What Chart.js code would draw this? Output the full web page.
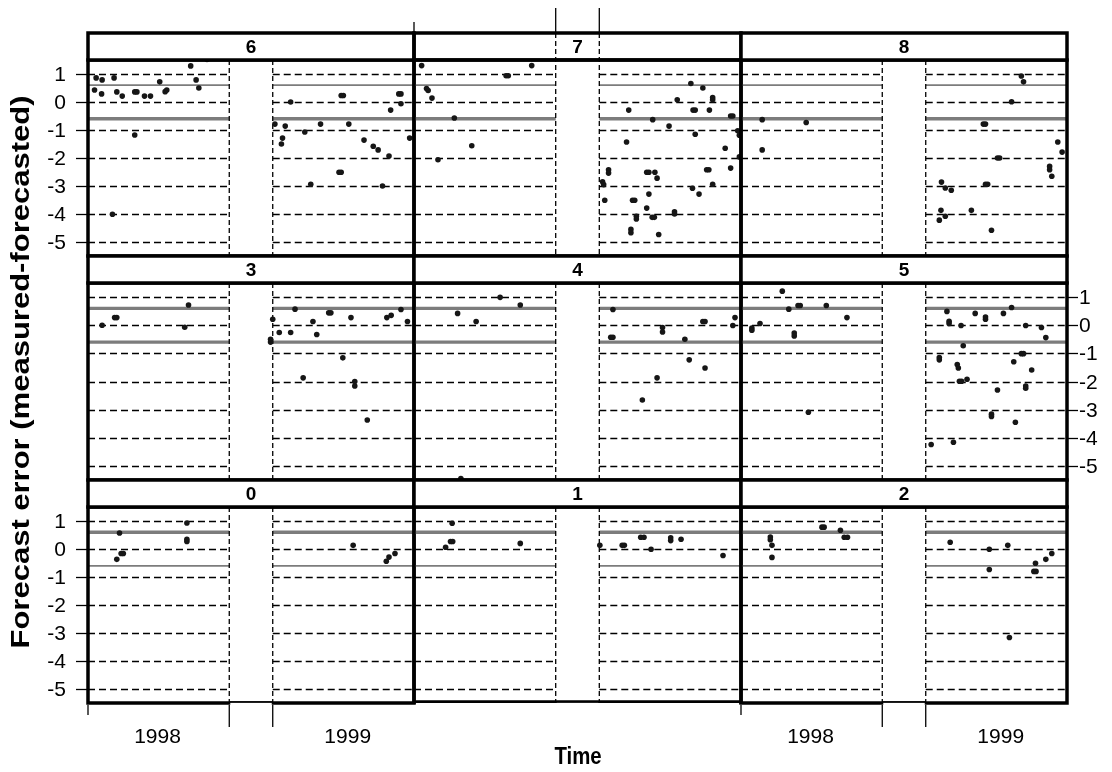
<!DOCTYPE html>
<html>
<head>
<meta charset="utf-8">
<title>Forecast error by station</title>
<script src="https://cdn.jsdelivr.net/npm/chart.js@4.4.1/dist/chart.umd.min.js"></script>
<style>
  html, body { margin: 0; padding: 0; background: #fff; }
  #wrap { position: relative; width: 1112px; height: 772px; overflow: hidden; }
  #wrap canvas { position: absolute; left: 0; top: 0; }
</style>
</head>
<body>
<div id="wrap"></div>
<script>
// time axis: weeks from start of the 1998 season, with a break between seasons
const seasonTicks = [0, 26, 34];
const gapStart = 26;
const gapEnd = 34;
const yearTicks = [12.8, 47.8];
const yearLabels = ["1998", "1999"];
const errorTicks = [1, 0, -1, -2, -3, -4, -5];
const bandLevels = [0.6, -0.6];

// forecast error (measured - forecasted) per station, [week, error]
const station6 = [
  [1.5, 0.86], [2.6, 0.79], [1.2, 0.43], [2.5, 0.29], [4.8, 0.86], [5.3, 0.36], [6.3, 0.21],
  [8.6, -1.18], [8.6, 0.36], [9.0, 0.36], [10.4, 0.21], [11.5, 0.21], [13.2, 0.72], [14.2, 0.37],
  [14.5, 0.43], [4.5, -4.01], [18.9, 1.29], [19.9, 0.79], [20.4, 0.5], [21.9, 1.52],
  [37.3, 0.0], [46.6, 0.23], [47.0, 0.23], [34.4, -0.79], [36.3, -0.86], [35.8, -1.29], [35.6, -1.5],
  [39.9, -1.07], [42.8, -0.79], [48.0, -0.79], [50.8, -1.36], [52.5, -1.58], [53.4, -1.71],
  [55.4, -1.93], [46.2, -2.51], [46.6, -2.51], [41.0, -2.94], [54.2, -3.0], [55.7, -0.29],
  [57.2, 0.29], [57.6, 0.29], [57.6, -0.06], [59.2, -1.29]
];
const station7 = [
  [1.4, 1.3], [2.3, 0.48], [2.6, 0.41], [3.3, 0.14], [7.4, -0.57], [10.6, -1.56], [4.4, -2.06],
  [16.9, 0.94], [17.3, 0.94], [21.6, 1.3],
  [39.4, -0.29], [43.8, -0.63], [46.8, -0.86], [48.3, 0.08], [50.8, 0.66], [53.0, 0.5], [54.8, 0.08],
  [54.8, 0.16], [51.2, -0.29], [51.6, -0.29], [54.2, -0.29], [58.1, -0.5], [58.5, -0.5], [51.6, -1.15],
  [59.4, -1.03], [59.7, -1.19], [57.1, -1.65], [59.7, -1.96], [58.1, -2.36], [39.0, -1.43],
  [35.7, -2.42], [35.7, -2.54], [34.6, -2.85], [34.8, -2.95], [35.0, -3.51], [42.7, -2.51],
  [43.1, -2.51], [44.2, -2.51], [44.6, -2.72], [43.1, -3.29], [40.1, -3.51], [40.5, -3.51],
  [42.7, -3.79], [40.8, -4.08], [40.8, -4.18], [43.7, -4.12], [44.1, -4.12], [39.8, -4.55],
  [39.8, -4.67], [44.9, -4.73], [47.8, -3.92], [47.8, -4.0], [51.1, -3.08], [52.3, -3.29],
  [53.7, -2.42], [54.1, -2.42], [54.8, -2.94]
];
const station8 = [
  [3.9, -0.63], [12.0, -0.73], [3.9, -1.71],
  [51.6, 0.93], [52.0, 0.72], [49.8, 0.01], [44.6, -0.79], [45.0, -0.79], [58.3, -1.43], [59.1, -1.79],
  [47.2, -2.0], [47.6, -2.0], [56.8, -2.3], [56.8, -2.42], [57.2, -2.65], [36.9, -2.86], [37.6, -3.07],
  [38.7, -3.15], [45.0, -2.94], [45.4, -2.94], [36.8, -3.87], [37.6, -4.08], [36.5, -4.22],
  [42.4, -3.87], [46.1, -4.58]
];
const station3 = [
  [2.6, 0.0], [4.9, 0.27], [5.3, 0.27], [17.8, -0.07], [18.5, 0.72],
  [34.0, 0.21], [33.6, -0.5], [33.6, -0.6], [35.2, -0.26], [37.3, -0.26], [38.1, 0.57], [41.4, 0.13],
  [42.1, -0.33], [44.3, 0.44], [44.7, 0.44], [48.4, 0.27], [55.0, 0.27], [55.8, 0.35], [57.6, 0.56],
  [58.8, 0.13], [46.9, -1.16], [39.6, -1.87], [49.1, -2.0], [49.1, -2.16], [51.4, -3.37]
];
const station4 = [
  [8.0, 0.42], [11.4, 0.13], [15.8, 0.99], [19.5, 0.72], [8.6, -5.45],
  [36.5, 0.56], [36.1, -0.43], [36.5, -0.43], [45.6, -0.08], [45.6, -0.24], [49.7, -0.5], [53.0, 0.13],
  [53.4, 0.13], [58.9, 0.27], [58.5, -0.01], [50.5, -1.23], [53.4, -1.52], [44.6, -1.87], [41.9, -2.66]
];
const station5 = [
  [7.6, 1.21], [2.0, -0.1], [2.0, -0.18], [3.5, 0.06], [8.8, 0.57], [10.5, 0.7], [10.9, 0.7],
  [15.7, 0.7], [19.5, 0.27], [9.8, -0.28], [9.8, -0.38], [12.4, -3.09],
  [37.9, 0.49], [43.1, 0.42], [45.0, 0.21], [45.0, 0.29], [48.3, 0.42], [49.8, 0.63], [38.3, 0.06],
  [38.3, 0.14], [40.5, -0.01], [52.4, -0.01], [55.3, -0.08], [56.1, -0.44], [40.9, -0.73],
  [36.5, -1.15], [36.5, -1.23], [39.8, -1.4], [40.0, -1.52], [51.6, -1.01], [52.0, -1.01],
  [50.2, -1.3], [53.5, -1.59], [40.2, -1.99], [40.6, -1.99], [41.6, -1.92], [47.2, -2.3],
  [52.4, -2.16], [52.4, -2.24], [46.1, -3.16], [46.1, -3.24], [50.5, -3.45], [35.0, -4.24], [39.1, -4.16]
];
const station0 = [
  [5.8, 0.57], [6.1, -0.16], [6.5, -0.16], [5.3, -0.37], [18.2, 0.93], [18.2, 0.27], [18.2, 0.35],
  [48.8, 0.13], [56.5, -0.16], [55.4, -0.29], [54.9, -0.44]
];
const station1 = [
  [7.0, 0.92], [6.7, 0.27], [7.1, 0.27], [5.8, 0.06], [19.5, 0.2],
  [34.1, 0.13], [38.2, 0.13], [38.6, 0.13], [41.6, 0.42], [42.2, 0.42], [43.5, -0.01], [47.1, 0.3],
  [47.1, 0.4], [49.0, 0.35], [56.7, -0.23]
];
const station2 = [
  [5.4, 0.33], [5.4, 0.43], [5.7, 0.13], [5.7, -0.3], [14.9, 0.78], [15.3, 0.78], [18.3, 0.67],
  [19.0, 0.42], [19.6, 0.42],
  [38.5, 0.24], [45.7, -0.01], [49.1, 0.13], [45.7, -0.73], [54.2, -0.51], [53.9, -0.8], [54.3, -0.8],
  [56.1, -0.37], [57.2, -0.16], [49.4, -3.16]
];

// page layout of the 3x3 trellis
const W = 1112, H = 772;
const colEdges = [88, 414, 741, 1067];
const rowEdges = [[33, 60, 256], [256, 283, 480], [480, 507, 703]];
const THIN = 1.7, THICK = 3.4;
const FONT = '"Liberation Sans", Arial, sans-serif';

const panels = [
  { name: "6", data: station6, col: 0, row: 0, bands: [THIN, THICK] },
  { name: "7", data: station7, col: 1, row: 0, bands: [THIN, THICK] },
  { name: "8", data: station8, col: 2, row: 0, bands: [THIN, THICK] },
  { name: "3", data: station3, col: 0, row: 1, bands: [THICK, THICK] },
  { name: "4", data: station4, col: 1, row: 1, bands: [THICK, THICK] },
  { name: "5", data: station5, col: 2, row: 1, bands: [THICK, THICK] },
  { name: "0", data: station0, col: 0, row: 2, bands: [THICK, THIN] },
  { name: "1", data: station1, col: 1, row: 2, bands: [THICK, THIN] },
  { name: "2", data: station2, col: 2, row: 2, bands: [THICK, THIN] }
];

function seg(ctx, x0, y0, x1, y1) {
  ctx.beginPath();
  ctx.moveTo(x0, y0);
  ctx.lineTo(x1, y1);
  ctx.stroke();
}

function framePlugin(p) {
  const stripTop = rowEdges[p.row][0];
  return {
    id: "frame" + p.name,
    beforeDatasetsDraw(chart) {
      const { ctx, chartArea: a, scales: { x, y } } = chart;
      const gx0 = x.getPixelForValue(gapStart);
      const gx1 = x.getPixelForValue(gapEnd);
      ctx.save();
      // dashed reference grid, broken over the gap between seasons
      ctx.strokeStyle = "#000";
      ctx.lineWidth = 1.3;
      ctx.setLineDash([7, 4]);
      errorTicks.forEach(v => {
        const py = Math.round(y.getPixelForValue(v)) + 0.5;
        seg(ctx, a.left, py, gx0, py);
        seg(ctx, gx1, py, a.right, py);
      });
      // +/- 0.6 band
      ctx.setLineDash([]);
      ctx.strokeStyle = "#7c7c7c";
      bandLevels.forEach((v, i) => {
        const py = y.getPixelForValue(v);
        ctx.lineWidth = p.bands[i];
        seg(ctx, a.left, py, gx0, py);
        seg(ctx, gx1, py, a.right, py);
      });
      // edges of the gap
      ctx.strokeStyle = "#000";
      ctx.lineWidth = 1.3;
      ctx.setLineDash([5, 3]);
      const top = p.row === 0 && p.col === 1 ? stripTop : a.top;
      [gx0, gx1].forEach(px => seg(ctx, px, top, px, a.bottom));
      ctx.restore();
    },
    afterDraw(chart) {
      const { ctx, chartArea: a, scales: { x, y } } = chart;
      const w = a.right - a.left;
      const gx0 = x.getPixelForValue(gapStart);
      const gx1 = x.getPixelForValue(gapEnd);
      ctx.save();
      ctx.strokeStyle = "#000";
      ctx.lineWidth = 3.5;
      if (p.row === 2 && p.col === 1) {
        // middle bottom panel has a lighter lower edge
        ctx.strokeRect(a.left, a.top, w, a.bottom - a.top - 1);
        ctx.fillStyle = "#fff";
        ctx.fillRect(a.left + 2, a.bottom - 2, w - 4, 4);
        ctx.lineWidth = 2;
        seg(ctx, a.left, a.bottom - 1, a.right, a.bottom - 1);
        ctx.lineWidth = 3.5;
      } else {
        ctx.strokeRect(a.left, a.top, w, a.bottom - a.top);
      }

      // strip with the station number
      if (!(p.row === 0 && p.col === 1)) {
        ctx.fillStyle = "#fff";
        ctx.fillRect(a.left, stripTop, w, a.top - stripTop);
      }
      ctx.strokeRect(a.left, stripTop, w, a.top - stripTop);
      ctx.fillStyle = "#000";
      ctx.font = "bold 19px " + FONT;
      ctx.textAlign = "center";
      ctx.textBaseline = "middle";
      ctx.fillText(p.name, (a.left + a.right) / 2, (stripTop + a.top) / 2 + 1);

      if (p.row === 2) {
        ctx.fillStyle = "#fff";
        ctx.fillRect(gx0 + 1, a.bottom - 0.5, gx1 - gx0 - 2, 3);
        ctx.lineWidth = 1.3;
        seg(ctx, gx0, a.bottom - 1, gx1, a.bottom - 1);
      }

      ctx.lineWidth = 1.3;
      ctx.font = "21px " + FONT;
      ctx.fillStyle = "#000";
      // error axis on the left (rows 0 and 2) or right (row 1)
      if ((p.col === 0 && p.row !== 1) || (p.col === 2 && p.row === 1)) {
        const left = p.col === 0;
        ctx.textAlign = left ? "right" : "left";
        ctx.textBaseline = "middle";
        errorTicks.forEach(v => {
          const py = Math.round(y.getPixelForValue(v)) + 0.5;
          if (left) {
            seg(ctx, a.left - 12, py, a.left, py);
            ctx.fillText(String(v), a.left - 22, py + 1);
          } else {
            seg(ctx, a.right, py, a.right + 11, py);
            ctx.fillText(String(v), a.right + 12, py + 1);
          }
        });
      }
      // time axis at the bottom (outer columns) and top (middle column)
      if (p.row === 2 && p.col !== 1) {
        seasonTicks.forEach(v => {
          const px = x.getPixelForValue(v);
          seg(ctx, px, a.bottom + 2, px, a.bottom + (v === 0 ? 12 : 24));
        });
        ctx.textAlign = "center";
        ctx.textBaseline = "middle";
        yearTicks.forEach((v, i) => ctx.fillText(yearLabels[i], x.getPixelForValue(v), a.bottom + 34));
      }
      if (p.row === 0 && p.col === 1) {
        seasonTicks.forEach(v => {
          const px = x.getPixelForValue(v);
          seg(ctx, px, stripTop - 1, px, stripTop - (v === 0 ? 11 : 25));
        });
      }
      ctx.restore();
    }
  };
}

// axis titles for the whole trellis (narrow bold lettering)
const titlesPlugin = {
  id: "titles",
  afterDraw(chart) {
    const ctx = chart.ctx;
    ctx.save();
    ctx.fillStyle = "#000";
    ctx.textAlign = "center";
    ctx.textBaseline = "middle";
    ctx.save();
    ctx.translate(578, 757);
    ctx.scale(0.85, 1);
    ctx.font = "bold 24px " + FONT;
    ctx.fillText("Time", 0, 0);
    ctx.restore();
    ctx.translate(22, 372);
    ctx.rotate(-Math.PI / 2);
    ctx.scale(1, 0.85);
    ctx.font = "bold 31px " + FONT;
    ctx.fillText("Forecast error (measured-forecasted)", 0, 0);
    ctx.restore();
  }
};

const wrap = document.getElementById("wrap");
panels.forEach((p, i) => {
  const canvas = document.createElement("canvas");
  canvas.width = W;
  canvas.height = H;
  wrap.appendChild(canvas);
  const [, top, bottom] = rowEdges[p.row];
  const left = colEdges[p.col], right = colEdges[p.col + 1];
  new Chart(canvas, {
    type: "scatter",
    data: {
      datasets: [{
        data: p.data.map(([wk, err]) => ({ x: wk, y: err })),
        pointRadius: 2.8,
        pointBackgroundColor: "#161616",
        pointBorderWidth: 0,
        clip: 0
      }]
    },
    options: {
      responsive: false,
      animation: false,
      devicePixelRatio: 1,
      events: [],
      layout: { padding: { left: left, top: top, right: W - right, bottom: H - bottom } },
      scales: {
        x: { type: "linear", min: 0, max: 60, display: false },
        y: { type: "linear", min: -5.5, max: 1.5, display: false }
      },
      plugins: { legend: { display: false }, tooltip: { enabled: false } }
    },
    plugins: i === panels.length - 1 ? [framePlugin(p), titlesPlugin] : [framePlugin(p)]
  });
});
</script>
</body>
</html>
